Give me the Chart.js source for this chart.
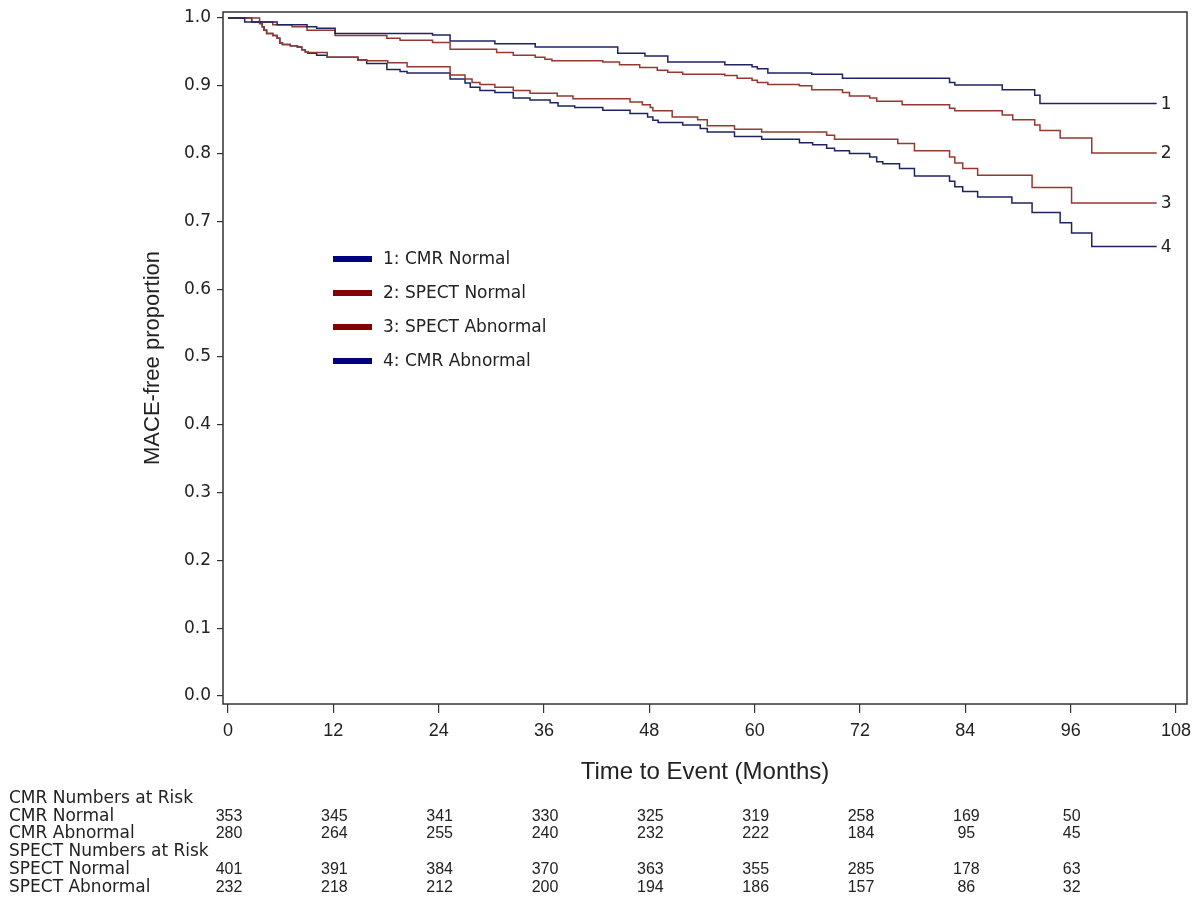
<!DOCTYPE html>
<html>
<head>
<meta charset="utf-8">
<title>MACE-free proportion</title>
<script src="https://cdn.jsdelivr.net/npm/chart.js@4/dist/chart.umd.min.js"></script>
<style>
  html, body { margin: 0; padding: 0; background: #fff; }
  #wrap { width: 1200px; height: 904px; position: relative; }
</style>
</head>
<body>
<div id="wrap"><canvas id="kmChart"></canvas></div>
<script>
// Kaplan-Meier step curves (time in months, survival proportion)
const cmrNormalT = [0, 1.9, 5.6, 9.0, 10.1, 12.2, 23.3, 25.3, 30.4, 35.0, 44.4, 47.5, 50.1, 56.6, 59.7, 60.3, 61.5, 66.5, 70.0, 82.2, 82.8, 88.2, 91.9, 92.5, 105.8];
const cmrNormalS = [1.0, 0.994, 0.990, 0.987, 0.985, 0.977, 0.975, 0.966, 0.962, 0.957, 0.948, 0.944, 0.935, 0.931, 0.928, 0.925, 0.919, 0.917, 0.911, 0.905, 0.901, 0.894, 0.886, 0.874, 0.874];

const spectNormalT = [0, 3.6, 5.1, 7.3, 9.0, 12.2, 18.1, 19.6, 23.3, 25.3, 30.6, 32.5, 35.0, 36.1, 36.9, 42.7, 44.6, 46.9, 48.9, 50.1, 51.8, 56.6, 58.0, 59.7, 60.3, 61.5, 65.1, 66.5, 70.0, 70.8, 73.1, 73.9, 76.8, 82.2, 82.8, 88.2, 89.4, 91.9, 92.5, 94.8, 98.4, 105.8];
const spectNormalS = [1.0, 0.994, 0.990, 0.987, 0.982, 0.974, 0.970, 0.967, 0.964, 0.954, 0.949, 0.945, 0.942, 0.939, 0.937, 0.935, 0.931, 0.927, 0.923, 0.920, 0.917, 0.915, 0.911, 0.908, 0.905, 0.902, 0.900, 0.894, 0.890, 0.885, 0.882, 0.877, 0.872, 0.867, 0.863, 0.857, 0.850, 0.842, 0.834, 0.823, 0.801, 0.801];

const spectAbnormalT = [0, 2.7, 3.6, 3.9, 4.1, 4.4, 5.1, 5.6, 5.9, 6.2, 7.1, 7.9, 8.4, 8.8, 9.1, 11.3, 14.8, 15.8, 18.2, 20.4, 25.3, 27.0, 27.8, 28.7, 30.4, 32.5, 34.4, 37.5, 39.3, 45.8, 47.2, 48.1, 48.4, 50.6, 53.5, 54.6, 57.7, 60.8, 68.2, 69.1, 76.3, 78.2, 82.2, 82.8, 83.7, 85.4, 91.6, 96.1, 105.8];
const spectAbnormalS = [1.0, 0.994, 0.992, 0.987, 0.982, 0.977, 0.974, 0.970, 0.963, 0.961, 0.959, 0.957, 0.953, 0.950, 0.949, 0.942, 0.938, 0.937, 0.934, 0.928, 0.916, 0.910, 0.905, 0.902, 0.898, 0.893, 0.889, 0.885, 0.881, 0.876, 0.872, 0.868, 0.863, 0.854, 0.850, 0.841, 0.836, 0.832, 0.827, 0.821, 0.815, 0.804, 0.795, 0.786, 0.778, 0.768, 0.750, 0.727, 0.727];

const cmrAbnormalT = [0, 2.7, 3.6, 3.9, 4.1, 4.4, 5.1, 5.6, 5.9, 6.2, 7.1, 7.9, 8.4, 8.8, 9.1, 10.1, 11.3, 14.8, 15.8, 18.1, 19.6, 20.4, 25.3, 27.0, 27.6, 28.7, 30.4, 32.5, 34.4, 36.7, 37.6, 39.5, 42.7, 45.8, 47.8, 48.4, 49.0, 51.8, 53.8, 54.6, 57.7, 60.8, 65.1, 66.6, 68.2, 69.1, 70.8, 73.1, 73.9, 74.6, 76.5, 78.2, 82.2, 82.8, 83.7, 85.4, 89.3, 91.6, 94.8, 96.1, 98.4, 105.8];
const cmrAbnormalS = [1.0, 0.994, 0.992, 0.987, 0.982, 0.977, 0.974, 0.970, 0.963, 0.961, 0.959, 0.957, 0.953, 0.950, 0.948, 0.945, 0.942, 0.938, 0.933, 0.924, 0.921, 0.919, 0.910, 0.904, 0.898, 0.893, 0.890, 0.882, 0.879, 0.875, 0.870, 0.868, 0.864, 0.859, 0.854, 0.849, 0.846, 0.842, 0.837, 0.832, 0.825, 0.821, 0.816, 0.813, 0.808, 0.804, 0.800, 0.795, 0.788, 0.785, 0.778, 0.767, 0.759, 0.751, 0.744, 0.736, 0.727, 0.713, 0.698, 0.683, 0.663, 0.663];

const xTicks = [0, 12, 24, 36, 48, 60, 72, 84, 96, 108];
const yTicks = [0, 0.1, 0.2, 0.3, 0.4, 0.5, 0.6, 0.7, 0.8, 0.9, 1.0];

// numbers at risk
const riskTimes = [0, 12, 24, 36, 48, 60, 72, 84, 96];
const cmrNormalRisk = [353, 345, 341, 330, 325, 319, 258, 169, 50];
const cmrAbnormalRisk = [280, 264, 255, 240, 232, 222, 184, 95, 45];
const spectNormalRisk = [401, 391, 384, 370, 363, 355, 285, 178, 63];
const spectAbnormalRisk = [232, 218, 212, 200, 194, 186, 157, 86, 32];

const BLUE_LINE = "#1e2462";
const RED_LINE = "#93392f";
const BLUE_KEY = "#00007f";
const RED_KEY = "#850000";

const verdana = '"DejaVu Sans", Verdana, sans-serif';
const arial = '"Liberation Sans", Arial, sans-serif';

function toPoints(ts, ss) {
  return ts.map((t, i) => ({ x: t, y: ss[i] }));
}

function curve(num, label, ts, ss, color, key) {
  return {
    label: num + ": " + label,
    endLabel: String(num),
    keyColor: key,
    data: toPoints(ts, ss),
    borderColor: color,
    borderWidth: 1.5,
    stepped: true,
    pointRadius: 0,
    fill: false,
  };
}

const riskRows = [
  { label: "CMR Numbers at Risk", values: null, y: 799 },
  { label: "CMR Normal", values: cmrNormalRisk, y: 817 },
  { label: "CMR Abnormal", values: cmrAbnormalRisk, y: 834 },
  { label: "SPECT Numbers at Risk", values: null, y: 852 },
  { label: "SPECT Normal", values: spectNormalRisk, y: 870 },
  { label: "SPECT Abnormal", values: spectAbnormalRisk, y: 888 },
];

const extras = {
  id: "kmExtras",
  beforeDraw(chart) {
    const ctx = chart.ctx;
    ctx.save();
    ctx.fillStyle = "#fff";
    ctx.fillRect(0, 0, chart.width, chart.height);
    ctx.restore();
  },
  afterDraw(chart) {
    const ctx = chart.ctx;
    const a = chart.chartArea;
    const xs = chart.scales.x;
    const ys = chart.scales.y;
    ctx.save();

    // frame
    ctx.strokeStyle = "#333";
    ctx.lineWidth = 1.5;
    ctx.strokeRect(a.left, a.top, a.right - a.left, a.bottom - a.top);

    // legend inside the plot
    ctx.font = "17px " + verdana;
    ctx.textBaseline = "middle";
    ctx.textAlign = "left";
    chart.data.datasets.forEach((ds, i) => {
      const y = 259 + i * 34;
      ctx.fillStyle = ds.keyColor;
      ctx.fillRect(333, y - 3, 39, 6);
      ctx.fillStyle = "#222";
      ctx.fillText(ds.label, 383, y + 1);
    });

    // curve end labels
    chart.data.datasets.forEach((ds) => {
      const last = ds.data[ds.data.length - 1];
      ctx.fillStyle = "#222";
      ctx.fillText(ds.endLabel, xs.getPixelForValue(last.x) + 4, ys.getPixelForValue(last.y) + 1);
    });

    // numbers at risk table
    riskRows.forEach((row) => {
      ctx.font = "17px " + verdana;
      ctx.textAlign = "left";
      ctx.fillStyle = "#222";
      ctx.fillText(row.label, 9, row.y);
      if (row.values) {
        ctx.font = "16px " + arial;
        ctx.textAlign = "center";
        row.values.forEach((v, i) => {
          ctx.fillText(String(v), xs.getPixelForValue(riskTimes[i]) + 1, row.y);
        });
      }
    });
    ctx.restore();
  },
};

const ctx = document.getElementById("kmChart");

new Chart(ctx, {
  type: "line",
  data: {
    datasets: [
      curve(1, "CMR Normal", cmrNormalT, cmrNormalS, BLUE_LINE, BLUE_KEY),
      curve(2, "SPECT Normal", spectNormalT, spectNormalS, RED_LINE, RED_KEY),
      curve(3, "SPECT Abnormal", spectAbnormalT, spectAbnormalS, RED_LINE, RED_KEY),
      curve(4, "CMR Abnormal", cmrAbnormalT, cmrAbnormalS, BLUE_LINE, BLUE_KEY),
    ],
  },
  options: {
    responsive: true,
    maintainAspectRatio: false,
    animation: false,
    devicePixelRatio: 1,
    layout: { padding: { left: 0, right: 13, top: 12, bottom: 0 } },
    plugins: {
      legend: { display: false },
      tooltip: { enabled: false },
    },
    scales: {
      x: {
        type: "linear",
        min: -0.57,
        max: 109.25,
        afterBuildTicks: (s) => { s.ticks = xTicks.map((v) => ({ value: v })); },
        afterFit: (s) => { s.height = 200; s.paddingLeft = 0; s.paddingRight = 0; },
        border: { display: false },
        grid: { drawOnChartArea: false, drawTicks: true, tickLength: 9, color: "#333", lineWidth: 1.2 },
        ticks: { color: "#222", padding: 7, maxRotation: 0, autoSkip: false, font: { family: arial, size: 18 } },
        title: {
          display: true,
          text: "Time to Event (Months)",
          color: "#222",
          font: { family: arial, size: 24 },
          padding: { top: 0, bottom: 117 },
        },
      },
      y: {
        type: "linear",
        min: -0.0118,
        max: 1.0088,
        afterBuildTicks: (s) => { s.ticks = yTicks.map((v) => ({ value: v })); },
        afterFit: (s) => { s.width = 223; s.paddingTop = 0; s.paddingBottom = 0; },
        border: { display: false },
        grid: { drawOnChartArea: false, drawTicks: true, tickLength: 6, color: "#333", lineWidth: 1.2 },
        ticks: {
          color: "#222",
          padding: 6,
          font: { family: verdana, size: 17 },
          callback: (v) => Number(v).toFixed(1),
        },
        title: {
          display: true,
          text: "MACE-free proportion",
          color: "#222",
          font: { family: arial, size: 22 },
          padding: { top: 140, bottom: 0 },
        },
      },
    },
  },
  plugins: [extras],
});
</script>
</body>
</html>
